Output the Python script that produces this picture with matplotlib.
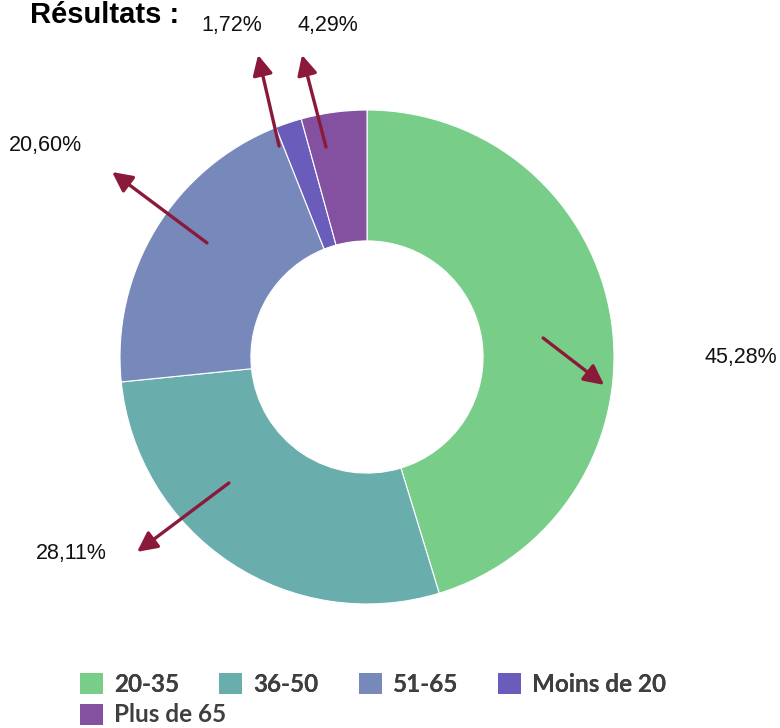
import matplotlib
matplotlib.use("Agg")
import matplotlib.pyplot as plt
from matplotlib.patches import Patch

# data
categories = ["20-35", "36-50", "51-65", "Moins de 20", "Plus de 65"]
shares = [45.28, 28.11, 20.60, 1.72, 4.29]
labels = ["45,28%", "28,11%", "20,60%", "1,72%", "4,29%"]
colors = ["#78CE88", "#6AADAD", "#7789BA", "#6A5CBA", "#8451A1"]

# callout layout (in pie radius units): arrow tail, arrow head, text position
arrow_tail = [(0.713, 0.077), (-0.559, -0.510), (-0.648, 0.462), (-0.356, 0.854), (-0.166, 0.850)]
arrow_head = [(0.960, -0.113), (-0.931, -0.789), (-1.032, 0.749), (-0.441, 1.223), (-0.263, 1.223)]
text_pos = [(1.515, -0.004), (-1.198, -0.794), (-1.30, 0.858), (-0.547, 1.344), (-0.158, 1.344)]

W, H = 780, 728
cx, cy, R = 367, 357, 247

fig = plt.figure(figsize=(W / 100, H / 100), dpi=100)
ax = fig.add_axes([0, 0, 1, 1])

ax.pie(shares, colors=colors, startangle=90, counterclock=False, radius=1,
       wedgeprops=dict(width=0.53, edgecolor="white", linewidth=0.8))
ax.set_xlim(-cx / R, (W - cx) / R)
ax.set_ylim(-(H - cy) / R, cy / R)
ax.set_aspect("auto")
ax.axis("off")

arrow_color = "#8B1A3A"
for lab, t, h, p in zip(labels, arrow_tail, arrow_head, text_pos):
    ax.annotate("", xy=h, xytext=t,
                arrowprops=dict(arrowstyle="-|>", color=arrow_color, lw=2.4,
                                mutation_scale=30, shrinkA=0, shrinkB=0))
    ax.text(p[0], p[1], lab, ha="center", va="center", fontsize=15.5,
            family="Liberation Sans", color="#111111")

fig.text(30 / W, 1 - 15 / H, "Résultats :", ha="left", va="center",
         fontsize=21, fontweight="bold", family="Liberation Sans")

handles = [Patch(facecolor=c, edgecolor="none") for c in colors]
leg_font = dict(family="Lato", weight="bold", size=17.5)
leg_kw = dict(loc="center left", frameon=False, prop=leg_font,
              handlelength=0.95, handleheight=0.95, handletextpad=0.45,
              borderpad=0, borderaxespad=0)
leg1 = fig.legend(handles[:4], categories[:4], bbox_to_anchor=(80 / W, 1 - 684 / H),
                  ncol=4, columnspacing=1.65, **leg_kw)
leg2 = fig.legend(handles[4:], categories[4:], bbox_to_anchor=(80 / W, 1 - 715 / H),
                  ncol=1, **leg_kw)
for leg in (leg1, leg2):
    for txt in leg.get_texts():
        txt.set_color("#3F3F3F")
fig.add_artist(leg1)

fig.savefig("out.png", dpi=100)
